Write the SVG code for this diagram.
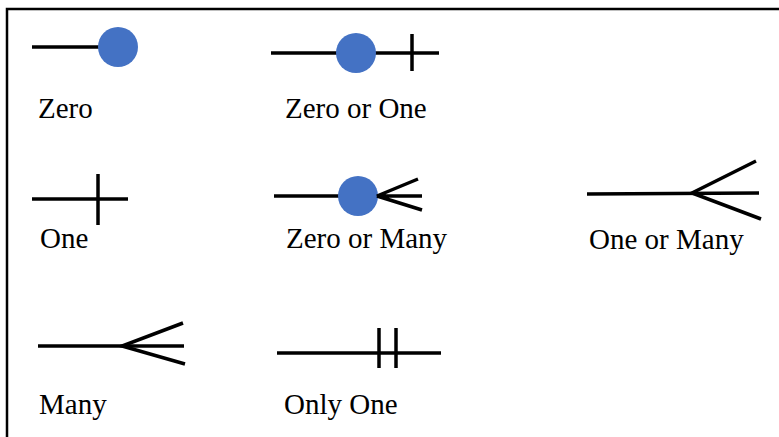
<svg xmlns="http://www.w3.org/2000/svg" width="779" height="437" viewBox="0 0 779 437">
<style>
.ln{stroke:#000;stroke-width:3.5;fill:none}
.dot{fill:#4472C4}
.lbl{font-family:'Liberation Serif','Times New Roman','DejaVu Serif',serif;font-size:29px;fill:#000}
</style>
<rect x="0" y="0" width="779" height="437" fill="#fff"/>
<rect x="7" y="9" width="790" height="450" fill="none" stroke="#000" stroke-width="2.5"/>
<g id="zero">
<line class="ln" x1="32" y1="47" x2="100" y2="47"/>
<circle class="dot" cx="118" cy="47" r="20"/>
<text class="lbl" x="38" y="118">Zero</text>
</g>
<g id="zero-or-one">
<line class="ln" x1="271" y1="53" x2="439" y2="53"/>
<circle class="dot" cx="356" cy="53" r="20"/>
<line class="ln" x1="412" y1="34" x2="412" y2="71"/>
<text class="lbl" x="285" y="118">Zero or One</text>
</g>
<g id="one">
<line class="ln" x1="32" y1="199" x2="128" y2="199"/>
<line class="ln" x1="98" y1="174" x2="98" y2="225"/>
<text class="lbl" x="40" y="248">One</text>
</g>
<g id="zero-or-many">
<line class="ln" x1="274" y1="196" x2="340" y2="196"/>
<circle class="dot" cx="358" cy="196" r="20"/>
<path class="ln" d="M418 179 L377 196 L422 196 M377 196 L422 210"/>
<text class="lbl" x="286" y="248">Zero or Many</text>
</g>
<g id="one-or-many">
<line class="ln" x1="587" y1="194" x2="759" y2="193"/>
<path class="ln" d="M756 161 L692 193 L761 219"/>
<text class="lbl" x="589" y="249">One or Many</text>
</g>
<g id="many">
<line class="ln" x1="38" y1="346" x2="184" y2="346"/>
<path class="ln" d="M183 323 L122 346 L185 364"/>
<text class="lbl" x="39" y="414">Many</text>
</g>
<g id="only-one">
<line class="ln" x1="277" y1="353" x2="441" y2="353"/>
<line class="ln" x1="379" y1="328" x2="379" y2="368"/>
<line class="ln" x1="396" y1="328" x2="396" y2="368"/>
<text class="lbl" x="284" y="414">Only One</text>
</g>
<g id="connectors"></g>
</svg>
